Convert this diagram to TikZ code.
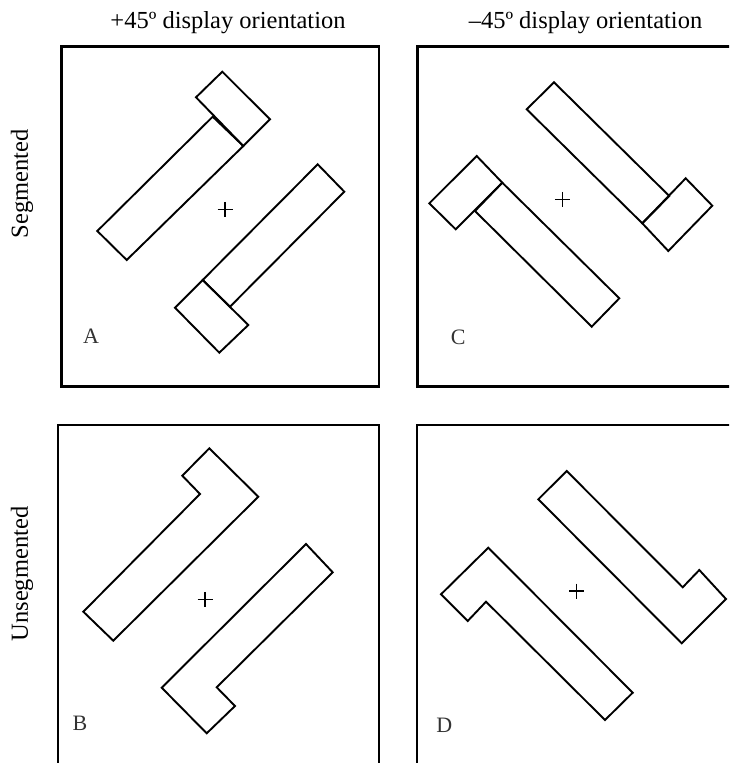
\documentclass[tikz,border=0pt]{standalone}
\usepackage{fontspec}
\setmainfont{Liberation Serif}
\begin{document}
\begin{tikzpicture}[x=1pt,y=-1pt,
  frame/.style={line width=2.4pt},
  barshape/.style={line width=1.9pt, line join=miter},
  crossmark/.style={line width=1.2pt},
  txt/.style={font=\fontsize{24.5}{28}\selectfont, inner sep=0pt},
  panel/.style={font=\fontsize{22}{26}\selectfont, inner sep=0pt, text=black!80}]
\useasboundingbox (0,0) rectangle (729,763);
\clip (0,0) rectangle (729,763);
% titles
\node[txt, anchor=base] (t1) at (228,28) {+45º display orientation};
\node[txt, anchor=base] (t2) at (585.5,28) {–45º display orientation};
\node[txt, rotate=90] (s1) at (22,184) {Segmented};
\node[txt, rotate=90] (s2) at (22,574) {Unsegmented};
% frames
\draw[frame] (61.5,46.5) rectangle (379,386.5);
\draw[frame] (417.5,46.5) rectangle (760,386.5);
\draw[frame] (58,425) rectangle (379,790);
\draw[frame] (417,425) rectangle (760,790);
% Panel A
\draw[barshape] (212.7,116.7) -- (97.3,231) -- (126.7,260) -- (243.3,146) -- cycle;
\draw[barshape] (196,97.3) -- (222.3,71.7) -- (270,119.3) -- (243.3,146) -- cycle;
\draw[barshape] (317.7,164.3) -- (344.3,191.7) -- (230,306.7) -- (202.7,280) -- cycle;
\draw[barshape] (202.7,280) -- (175,307.7) -- (219.3,352.7) -- (248.3,325) -- cycle;
\draw[crossmark] (217.5,209.3) -- (232.5,209.3) (225,201.8) -- (225,216.8);
\node[panel] (la) at (91,336) {A};
% Panel C
\draw[barshape] (554,82.3) -- (526.7,109.3) -- (642.3,223.3) -- (669.3,196) -- cycle;
\draw[barshape] (642.3,223.3) -- (685.7,178.3) -- (712.3,205.7) -- (668.3,251) -- cycle;
\draw[barshape] (429.3,203.3) -- (476.7,156) -- (502.3,182.7) -- (455.7,229.3) -- cycle;
\draw[barshape] (502.3,182.7) -- (619.3,298.3) -- (591.7,326.7) -- (475,211) -- cycle;
\draw[crossmark] (554.8,199.3) -- (569.8,199.3) (562.3,191.8) -- (562.3,206.8);
\node[panel] (lc) at (458.3,337.7) {C};
% Panel B
\draw[barshape] (209.3,448.3) -- (258.3,496.7) -- (113.3,640.7) -- (83.3,611.7) -- (200,494) -- (182.3,475.7) -- cycle;
\draw[barshape] (306,544) -- (332.7,572.3) -- (216.7,687.3) -- (235,706) -- (206.7,733.3) -- (161.7,687.7) -- cycle;
\draw[crossmark] (197.5,599.3) -- (212.5,599.3) (205,591.8) -- (205,606.8);
\node[panel] (lb) at (80,723.3) {B};
% Panel D
\draw[barshape] (566.7,471) -- (682.7,587.3) -- (699.3,570) -- (726,599) -- (681.7,643.3) -- (538.3,499.3) -- cycle;
\draw[barshape] (488.3,547.7) -- (632.7,692.7) -- (605,720) -- (486,601.7) -- (467.7,621) -- (441,594.3) -- cycle;
\draw[crossmark] (569.2,591) -- (584.2,591) (576.7,583.5) -- (576.7,598.5);
\node[panel] (ld) at (444.3,725) {D};
\end{tikzpicture}
\end{document}
